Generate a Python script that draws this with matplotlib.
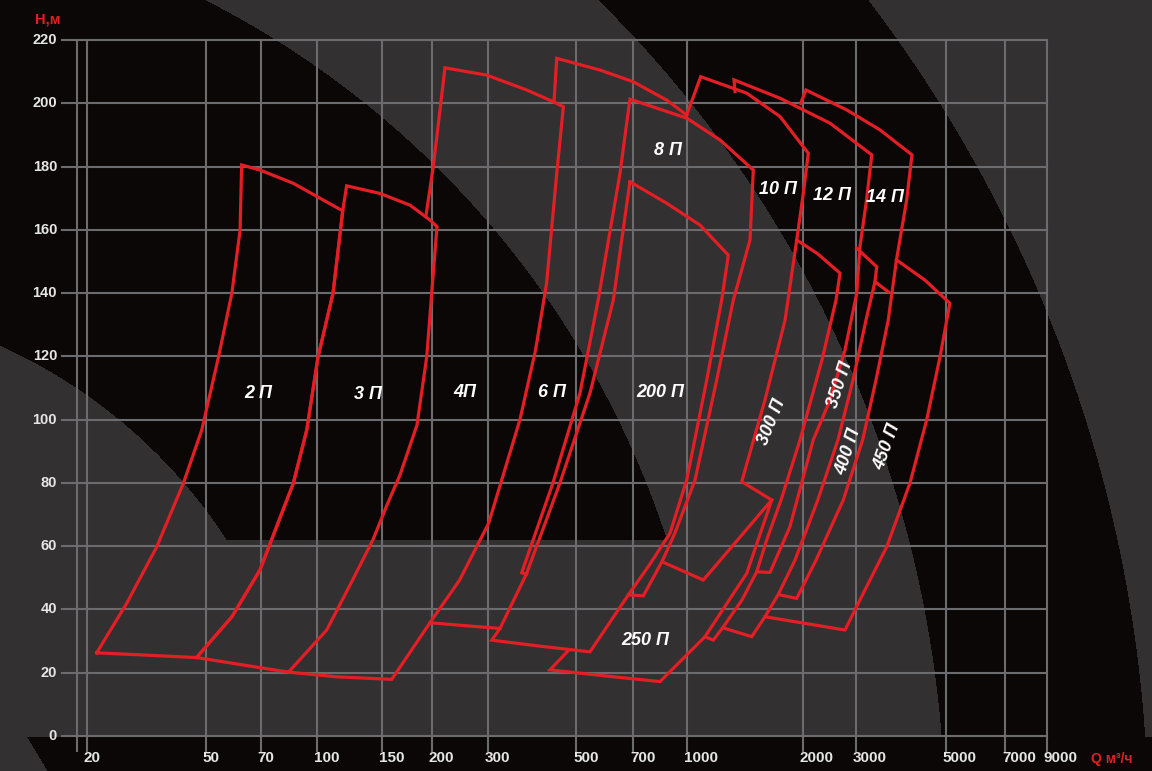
import numpy as np
import matplotlib
matplotlib.use("Agg")
import matplotlib.pyplot as plt
from matplotlib.transforms import ScaledTranslation

# ---- axis: the chart's Q axis is only roughly logarithmic, so use the tick positions as knots
axis_knots_q = [1, 20, 50, 70, 100, 150, 200, 300, 500, 700, 1000, 2000, 3000, 5000, 7000, 9000, 1e5]
axis_knots_pos = [-302.4, 86.7, 205.7, 260.7, 316.6, 381.6, 431.7, 487.6, 576.0, 632.9, 687.4,
                  802.6, 856.0, 945.8, 1004.9, 1046.7, 1447.2]

x_ticks = [18.5, 20, 50, 70, 100, 150, 200, 300, 500, 700, 1000, 2000, 3000, 5000, 7000, 9000]
x_labels = ["", "20", "50", "70", "100", "150", "200", "300", "500", "700", "1000",
            "2000", "3000", "5000", "7000", "9000"]
y_ticks = list(range(0, 221, 20))

# ---- pump fields, (Q m3/h, H m)
outline_2p = [(21.6, 26.3), (27.2, 41.9), (34.3, 59.8), (42.1, 79.9), (48.5, 96.7), (54.1, 119.9),
              (58.7, 140.1), (61.7, 159.9), (62.3, 180.5), (69.7, 178.9), (86.2, 174.7), (102.1, 170.0),
              (117.7, 166.0), (110.8, 140.0), (100.9, 119.8), (93.9, 96.7), (86.2, 79.9), (69.7, 52.5),
              (58.7, 37.7), (46.6, 24.8), (30.9, 25.6), (21.6, 26.3)]
outline_3p = [(46.6, 24.8), (58.7, 37.7), (69.7, 52.5), (86.2, 79.9), (93.9, 96.7), (100.9, 119.8),
              (110.8, 140.0), (117.7, 166.0), (120.6, 173.9), (148.5, 171.5), (176.6, 167.8), (198.0, 163.1),
              (207.8, 161.0), (200.0, 139.9), (194.4, 119.9), (183.8, 98.3), (166.7, 82.5), (154.7, 73.0),
              (142.1, 62.0), (123.9, 48.3), (106.5, 33.5), (83.6, 20.2), (69.7, 21.6), (46.6, 24.8)]
outline_4p = [(83.6, 20.2), (113.4, 18.7), (159, 17.9), (198, 35.8), (244.9, 49.3), (301.7, 67.2),
              (361.5, 99.9), (395.8, 122), (421.9, 143.1), (447.4, 177.9), (464.8, 198.9), (438.5, 200.5),
              (376, 204.2), (298, 208.9), (220.2, 211.2), (202.3, 180), (193.5, 164.4)]
outline_6p_top = [(440.3, 200.5), (447.4, 214.2), (576.3, 210.5), (701.8, 206.8), (873.2, 201), (995.4, 196.3)]
outline_6p_bottom = [(198, 35.8), (252.8, 34.9), (322.3, 34)]
outline_200p = [(687.8, 175.2), (873.2, 168.4), (1078.7, 161.5), (1279.2, 152), (1229.1, 137.8),
                (1123.3, 112.5), (995.4, 80.9), (892.4, 64.1), (780.1, 54.1), (681.3, 44.6), (543.1, 26.6),
                (406, 28.4), (307.2, 30.3), (322.3, 34), (376, 51.4), (455.7, 80), (543.1, 108.4),
                (623.4, 137.8), (687.8, 175.2)]
outline_8p = [(376, 51.1), (365.3, 51.6), (437.7, 80), (511.9, 108.4), (570.1, 137.8), (648.6, 177.9),
              (687.8, 201.3), (995.4, 195.3), (1216.9, 188.4), (1486.6, 178.9), (1457.5, 156.8),
              (1318.5, 137.8), (1192.6, 112.5), (1046.8, 80.9), (922, 64.2), (846.6, 55.1), (749.4, 44.3),
              (681.3, 44.6)]
outline_10p = [(995.4, 196.3), (1083.3, 208.4), (1428.8, 203.2), (1745.8, 195.8), (2088.4, 184.2),
               (2010.7, 171.5), (1930.4, 156.8), (1799.9, 131.5), (1594.7, 106.2), (1386.6, 80.4),
               (1660.8, 74.6), (1100.4, 49.3), (846.6, 55.1)]
outline_12p = [(1331.6, 203.7), (1323.6, 207.4), (1745.8, 201.6), (2462.8, 193.7), (3281.3, 183.7),
               (3185.2, 169.4), (3068.6, 154.7), (3012, 139.9), (2759.5, 122), (2462.8, 106.2),
               (2168.3, 93.6), (1853.7, 66.2), (1644.1, 51.7), (1517.4, 51.9)]
outline_14p = [(1977.1, 200), (2052.1, 204.2), (2796.2, 197.9), (3437.3, 191.6), (4124.6, 183.7),
               (4002.2, 169.4), (3776.8, 150.5), (3604.1, 131.5), (3360.9, 112.5), (3115.6, 93.6),
               (2723.4, 74.6), (2215.2, 55.6), (1930.4, 43.5), (1745.8, 44.6)]
outline_250p = [(478.1, 27), (430.2, 20.9), (593.7, 19), (835.7, 17.2), (1111.7, 31.4), (1428.8, 51.4),
                (1660.8, 74.6)]
outline_300p = [(1930.4, 156.8), (2244.5, 152.4), (2657.3, 146.3), (2577.4, 137.8), (2317.5, 118.9),
                (1969.3, 93.6), (1756.6, 74.6), (1611.6, 62), (1517.4, 51.9), (1388.8, 43),
                (1241.2, 34.5), (1168.6, 30.3), (1111.7, 31.4)]
outline_350p = [(3012, 154.2), (3375.6, 148.3), (3342, 143.6), (3175.7, 131.5), (2932.6, 112.5),
                (2616.5, 93.6), (2244.5, 74.6), (1910.8, 55.6), (1724.7, 44.6), (1594.7, 37.7),
                (1472.3, 31.4), (1253.7, 34.0)]
outline_400p_top = [(3342, 143.6), (3604.1, 140.4)]
outline_450p = [(3776.8, 150.5), (4441, 144.1), (5117.5, 136.8), (4838.9, 119.9), (4484.3, 99.9),
                (4077.7, 79.9), (3572.6, 59.8), (3126.4, 45.1), (2759.5, 33.5), (1594.7, 37.7)]

outlines = [outline_2p, outline_3p, outline_4p, outline_6p_top, outline_6p_bottom, outline_200p,
            outline_8p, outline_10p, outline_12p, outline_14p, outline_250p, outline_300p,
            outline_350p, outline_400p_top, outline_450p]

# labels: text, Q, H, rotation
field_names = ["2 П", "3 П", "4П", "6 П", "200 П", "8 П", "10 П", "12 П", "14 П",
               "250 П", "300 П", "350 П", "400 П", "450 П"]
field_q = [68.9, 137.8, 254.6, 435.9, 835.7, 880.6, 1724.7, 2500.3, 3537.5,
           757.7, 1663.8, 2657.3, 2822, 3577.7]
field_h = [108.4, 107.8, 108.7, 108.7, 108.7, 185.2, 172.6, 171.0, 170.1,
           30.3, 99.3, 110.9, 89.8, 91.4]
field_rot = [0, 0, 0, 0, 0, 0, 0, 0, 0, 0, 68, 72, 72, 70]

red = "#e31e24"
grid_c = "#6c6c6e"
dark = np.array([11, 7, 6]) / 255
grey = np.array([50, 48, 49]) / 255
label_font = ["Liberation Sans", "DejaVu Sans"]


def fwd(q):
    q = np.clip(np.asarray(q, dtype=float), 1e-3, None)
    return np.interp(np.log10(q), np.log10(axis_knots_q), axis_knots_pos)


def inv(p):
    return 10 ** np.interp(np.asarray(p, dtype=float), axis_knots_pos, np.log10(axis_knots_q))


W, H = 1152, 771
fig = plt.figure(figsize=(W / 100, H / 100), dpi=100)

# background rings
bg = fig.add_axes([0, 0, 1, 1])
yy, xx = np.mgrid[0:H, 0:W] + 0.5
r = np.hypot(xx + 216.7, yy - 828.4)
is_grey = (r < 529) | ((r < 929.6) & (yy > 540)) | ((r >= 929.6) & (r < 1162)) | (r >= 1365)
is_grey &= ~((yy > 737) & (xx > 27 + (yy - 737) * 0.6))
img = np.where(is_grey[..., None], grey, dark)
bg.imshow(img, extent=(0, W, H, 0), aspect="auto", interpolation="bilinear")
bg.set_xlim(0, W)
bg.set_ylim(H, 0)
bg.axis("off")

ax = fig.add_axes([62 / W, 1 - 736 / H, (1046.7 - 62) / W, (736 - 40) / H])
ax.patch.set_alpha(0)
ax.set_xscale("function", functions=(fwd, inv))
ax.set_xlim(inv(62), 9000)
ax.set_ylim(0, 220)
for s in ax.spines.values():
    s.set_visible(False)

for q in x_ticks:
    ax.axvline(q, color=grid_c, lw=1.5, zorder=1, clip_on=False)
for h in y_ticks:
    ax.axhline(h, color=grid_c, lw=1.5, zorder=1, clip_on=False)

ax.set_xticks(x_ticks)
ax.set_xticklabels([])
ax.tick_params(axis="x", length=11.5, width=1.5, color=grid_c, direction="out")
ax.set_yticks(y_ticks)
ax.set_yticklabels([])
ax.tick_params(axis="y", length=0)
ax.minorticks_off()

off_x = ScaledTranslation(-3 / 100, -15 / 100, fig.dpi_scale_trans)
for q, lab in zip(x_ticks, x_labels):
    ax.text(q, 0, lab, transform=ax.get_xaxis_transform() + off_x, ha="left", va="top",
            color="#e6e6e6", fontsize=11, fontweight="bold", family=label_font)
off_y = ScaledTranslation(-5 / 100, 0, fig.dpi_scale_trans)
for h in y_ticks:
    ax.text(0, h, str(h), transform=ax.get_yaxis_transform() + off_y, ha="right", va="center",
            color="#e6e6e6", fontsize=10.5, fontweight="bold", family=label_font)

for line in outlines:
    qs, hs = zip(*line)
    ax.plot(qs, hs, color=red, lw=2.3, solid_joinstyle="miter", zorder=3, clip_on=False)

for name, q, h, rot in zip(field_names, field_q, field_h, field_rot):
    ax.text(q, h, name, color="white", fontsize=13, fontweight="bold", fontstyle="italic",
            family=["Liberation Sans", "DejaVu Sans"], ha="center", va="center", rotation=rot, zorder=4)

fig.text(35 / W, 1 - 19.5 / H, "Н,м", color=red, fontsize=10.5, fontweight="bold", family=label_font,
         ha="left", va="center")
fig.text(1091 / W, 1 - 759.5 / H, "Q м³/ч", color=red, fontsize=10, fontweight="bold", family=label_font,
         ha="left", va="center")

fig.savefig("out.png", dpi=100)
